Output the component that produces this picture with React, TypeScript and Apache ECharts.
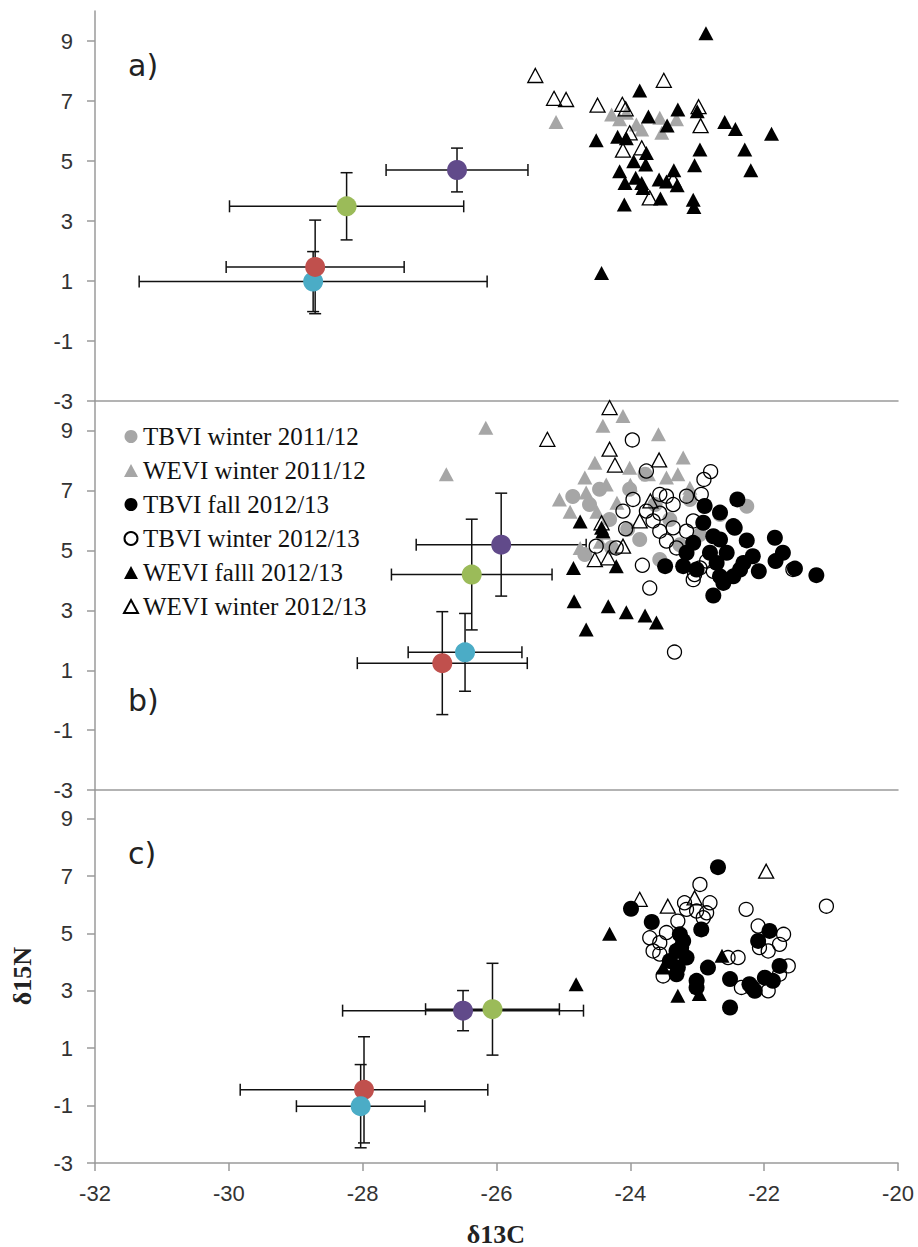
import React, { useEffect, useRef } from 'react';
import * as echarts from 'echarts';

const xTicks = [-32, -30, -28, -26, -24, -22, -20];
const yTicks = [-3, -1, 1, 3, 5, 7, 9];
const panelLabels = ['a)', 'b)', 'c)'];
const legendNames = [
  'TBVI winter 2011/12',
  'WEVI winter 2011/12',
  'TBVI fall 2012/13',
  'TBVI winter 2012/13',
  'WEVI falll 2012/13',
  'WEVI winter 2012/13',
];

// Panel a
const grayTriA = [[-25.11,6.30],[-24.28,6.55],[-24.16,6.39],[-23.91,6.22],[-23.56,6.44],[-23.53,5.94],[-23.83,6.05],[-23.31,6.39],[-24.06,6.61]];
const blackTriA = [[-22.87,9.26],[-23.86,7.35],[-23.73,6.48],[-23.29,6.72],[-23.00,6.66],[-23.45,6.18],[-22.59,6.30],[-22.43,6.07],[-21.89,5.91],[-24.51,5.69],[-24.19,5.81],[-24.06,5.76],[-22.96,5.38],[-22.29,5.38],[-23.76,5.27],[-23.95,4.99],[-23.04,4.86],[-23.77,4.88],[-24.16,4.66],[-23.35,4.69],[-22.20,4.69],[-24.08,4.27],[-23.83,4.27],[-23.57,4.38],[-23.46,4.32],[-23.30,4.19],[-23.81,4.10],[-23.55,3.75],[-23.06,3.71],[-23.05,3.47],[-24.09,3.55],[-24.43,1.27],[-23.92,4.44]];
const openTriA = [[-25.42,7.85],[-25.14,7.09],[-24.96,7.05],[-24.49,6.86],[-23.50,7.69],[-24.12,6.89],[-24.07,6.74],[-22.98,6.81],[-22.95,6.18],[-24.01,5.94],[-24.11,5.36],[-23.83,5.44],[-23.36,4.38],[-23.71,3.77]];
// [x, y, xErr, yErr]
const meanRedA = [-28.71, 1.47, 1.33, 1.56];
const meanBlueA = [-28.74, 0.98, 2.6, 1.0];
const meanGreenA = [-28.24, 3.49, 1.75, 1.12];
const meanPurpleA = [-26.59, 4.70, 1.06, 0.73];

// Panel b
const grayCircB = [[-24.86,6.81],[-24.61,6.54],[-24.31,6.04],[-24.04,5.71],[-23.86,5.37],[-23.63,6.54],[-23.41,6.04],[-23.11,6.71],[-22.96,5.54],[-22.66,6.21],[-22.26,6.48],[-24.28,5.10],[-24.68,4.87],[-24.01,7.05],[-23.56,4.70],[-23.26,5.20],[-24.46,7.05],[-23.78,7.55]];
const grayTriB = [[-26.75,7.55],[-26.16,9.11],[-24.11,9.50],[-24.41,9.17],[-23.58,8.89],[-23.21,8.11],[-24.53,7.94],[-24.01,7.77],[-25.06,6.71],[-24.68,7.44],[-24.36,7.21],[-24.66,6.94],[-23.73,7.55],[-23.46,7.44],[-23.29,7.55],[-23.11,7.10],[-24.75,5.09],[-24.45,5.30],[-24.90,6.30],[-24.50,6.30],[-24.20,6.60],[-24.40,5.60],[-24.00,7.20]];
const blackCircB = [[-22.40,6.71],[-22.44,5.76],[-21.84,5.43],[-22.26,5.34],[-21.72,4.93],[-21.83,4.65],[-21.54,4.40],[-21.22,4.18],[-22.08,4.31],[-22.76,3.50],[-23.48,4.48],[-23.21,4.48],[-22.89,6.49],[-22.66,6.27],[-22.76,5.48],[-22.56,4.93],[-22.31,4.59],[-22.66,4.14],[-22.46,4.14],[-22.17,4.81],[-22.81,4.93],[-23.06,5.26],[-22.91,5.93],[-23.16,4.93],[-22.61,3.92],[-22.36,4.37],[-22.71,4.59],[-23.01,4.37],[-22.46,5.82],[-22.66,5.37]];
const openCircB = [[-23.97,8.70],[-23.76,7.66],[-22.80,7.64],[-22.90,7.38],[-23.96,6.71],[-24.11,6.32],[-24.07,5.73],[-24.51,5.15],[-24.21,5.09],[-23.82,4.51],[-23.71,3.75],[-23.34,1.61],[-23.06,4.03],[-23.04,4.20],[-21.57,4.37],[-23.56,6.88],[-23.46,6.82],[-23.16,6.82],[-22.94,6.88],[-23.36,6.54],[-23.66,5.99],[-23.56,5.65],[-23.46,5.32],[-23.36,5.76],[-23.16,5.65],[-23.06,5.99],[-23.31,5.09],[-22.96,4.42],[-22.86,4.65],[-22.76,4.31],[-23.76,6.32],[-23.56,6.25]];
const blackTriB = [[-24.75,5.97],[-24.43,5.76],[-24.41,5.65],[-24.85,4.42],[-24.21,4.48],[-24.84,3.31],[-24.33,3.14],[-24.06,2.94],[-23.78,2.83],[-23.61,2.60],[-24.66,2.36]];
const openTriB = [[-24.31,9.78],[-25.24,8.72],[-24.31,8.39],[-24.23,7.86],[-23.57,8.03],[-23.70,6.66],[-23.86,5.99],[-24.43,5.93],[-24.11,5.15],[-24.53,4.70],[-24.33,4.76]];
const meanRedB = [-26.81, 1.24, 1.27, 1.72];
const meanBlueB = [-26.47, 1.60, 0.85, 1.3];
const meanGreenB = [-26.37, 4.20, 1.2, 1.85];
const meanPurpleB = [-25.93, 5.20, 1.27, 1.72];

// Panel c
const blackCircC = [[-22.69,7.31],[-23.99,5.86],[-23.68,5.40],[-22.94,5.14],[-21.92,5.09],[-22.09,4.74],[-23.21,4.74],[-23.31,4.39],[-23.16,4.16],[-23.29,3.81],[-22.84,3.81],[-23.31,3.58],[-23.01,3.35],[-23.01,3.12],[-22.51,3.41],[-22.22,3.23],[-22.14,3.00],[-21.99,3.46],[-21.87,3.35],[-21.77,3.87],[-22.51,2.42],[-23.41,4.04],[-23.26,4.97],[-23.24,4.51],[-22.18,3.12]];
const openCircC = [[-22.96,6.71],[-21.07,5.95],[-22.27,5.84],[-22.81,6.07],[-23.16,5.84],[-23.01,5.78],[-22.91,5.55],[-22.09,5.26],[-21.71,4.97],[-21.77,4.62],[-21.94,4.39],[-22.39,4.16],[-22.54,4.16],[-23.71,4.85],[-23.56,4.68],[-23.46,5.03],[-23.56,4.28],[-23.29,5.43],[-23.51,3.52],[-22.34,3.12],[-21.94,3.00],[-21.77,3.58],[-23.19,6.07],[-22.86,5.72],[-22.07,4.51],[-23.66,4.39],[-21.64,3.87]];
const blackTriC = [[-24.31,4.99],[-24.81,3.23],[-22.63,4.22],[-23.51,3.81],[-23.29,2.83],[-22.97,2.89]];
const openTriC = [[-21.97,7.17],[-23.86,6.19],[-23.44,5.95],[-23.04,6.24]];
const meanRedC = [-27.98, -0.45, 1.85, 1.85];
const meanBlueC = [-28.03, -1.02, 0.96, 1.45];
const meanGreenC = [-26.06, 2.36, 1.0, 1.6];
const meanPurpleC = [-26.50, 2.31, 1.8, 0.7];

const RED = '#C0504D';
const BLUE = '#4BACC6';
const GREEN = '#9BBB59';
const PURPLE = '#614A8A';
const GRAY = '#a6a6a6';

const panels = [
  {
    grayCirc: [] as number[][], grayTri: grayTriA, blackCirc: [] as number[][], openCirc: [] as number[][],
    blackTri: blackTriA, openTri: openTriA,
    means: [[meanBlueA, BLUE], [meanRedA, RED], [meanGreenA, GREEN], [meanPurpleA, PURPLE]],
  },
  {
    grayCirc: grayCircB, grayTri: grayTriB, blackCirc: blackCircB, openCirc: openCircB,
    blackTri: blackTriB, openTri: openTriB,
    means: [[meanRedB, RED], [meanBlueB, BLUE], [meanGreenB, GREEN], [meanPurpleB, PURPLE]],
  },
  {
    grayCirc: [] as number[][], grayTri: [] as number[][], blackCirc: blackCircC, openCirc: openCircC,
    blackTri: blackTriC, openTri: openTriC,
    means: [[meanRedC, RED], [meanBlueC, BLUE], [meanGreenC, GREEN], [meanPurpleC, PURPLE]],
  },
];

const grids = [
  { left: 95, right: 20, top: 11, height: 390 },
  { left: 95, right: 20, top: 401, height: 389 },
  { left: 95, right: 20, top: 790, height: 373 },
];
const labelY = [65, 700, 853];

const AXIS_COLOR = '#9a9a9a';
const LABEL_FONT = 'Liberation Sans, Arial, sans-serif';
const SERIF = 'Liberation Serif, Times New Roman, serif';

function errorBarRender(params: any, api: any) {
  const x = api.value(0), y = api.value(1), xe = api.value(2), ye = api.value(3);
  const l = api.coord([x - xe, y]);
  const r = api.coord([x + xe, y]);
  const t = api.coord([x, y + ye]);
  const b = api.coord([x, y - ye]);
  const c = 6;
  const style = { stroke: '#111', lineWidth: 1.5 };
  const ln = (x1: number, y1: number, x2: number, y2: number) => ({ type: 'line', shape: { x1, y1, x2, y2 }, style });
  return {
    type: 'group',
    children: [
      ln(l[0], l[1], r[0], r[1]),
      ln(l[0], l[1] - c, l[0], l[1] + c),
      ln(r[0], r[1] - c, r[0], r[1] + c),
      ln(t[0], t[1], b[0], b[1]),
      ln(t[0] - c, t[1], t[0] + c, t[1]),
      ln(b[0] - c, b[1], b[0] + c, b[1]),
    ],
  };
}

const markerDefs = [
  { key: 'grayCirc', name: legendNames[0], symbol: 'circle', size: 15, itemStyle: { color: GRAY, opacity: 1 } },
  { key: 'grayTri', name: legendNames[1], symbol: 'triangle', size: [15, 14], itemStyle: { color: GRAY, opacity: 1 } },
  { key: 'blackCirc', name: legendNames[2], symbol: 'circle', size: 16, itemStyle: { color: '#000', opacity: 1 } },
  { key: 'openCirc', name: legendNames[3], symbol: 'circle', size: 14, itemStyle: { color: 'rgba(255,255,255,0)', borderColor: '#000', borderWidth: 1.3, opacity: 1 } },
  { key: 'blackTri', name: legendNames[4], symbol: 'triangle', size: [15, 14], itemStyle: { color: '#000', opacity: 1 } },
  { key: 'openTri', name: legendNames[5], symbol: 'triangle', size: [15, 14], itemStyle: { color: 'rgba(255,255,255,0)', borderColor: '#000', borderWidth: 1.3, opacity: 1 } },
];

function buildOption() {
  const xAxis: any[] = [];
  const yAxis: any[] = [];
  const series: any[] = [];
  const graphic: any[] = [];

  grids.forEach((g, i) => {
    const isBottom = i === 2;
    xAxis.push({
      type: 'value', gridIndex: i, min: xTicks[0], max: xTicks[xTicks.length - 1], interval: 2,
      splitLine: { show: false },
      axisLine: { show: true, onZero: false, lineStyle: { color: AXIS_COLOR, width: 1.5 } },
      axisTick: { show: isBottom, length: 8, lineStyle: { color: AXIS_COLOR, width: 1.5 } },
      axisLabel: { show: isBottom, fontSize: 22, color: '#333', fontFamily: LABEL_FONT, margin: 19 },
    });
    yAxis.push({
      type: 'value', gridIndex: i, min: -3, max: 10,
      splitLine: { show: false },
      axisLine: { show: true, onZero: false, lineStyle: { color: AXIS_COLOR, width: 1.5 } },
      axisTick: { show: true, length: 8, customValues: yTicks, lineStyle: { color: AXIS_COLOR, width: 1.5 } },
      axisLabel: { show: true, customValues: yTicks, fontSize: 22, color: '#333', fontFamily: LABEL_FONT, margin: 22 },
    });

    const p: any = panels[i];
    series.push({
      type: 'custom', xAxisIndex: i, yAxisIndex: i, z: 2, silent: true,
      renderItem: errorBarRender,
      encode: { x: 0, y: 1 },
      data: p.means.map((m: any) => m[0]),
    });
    markerDefs.forEach((d) => {
      series.push({
        type: 'scatter', name: d.name, xAxisIndex: i, yAxisIndex: i, z: 3, silent: true,
        symbol: d.symbol, symbolSize: d.size, itemStyle: d.itemStyle,
        data: p[d.key],
      });
    });
    series.push({
      type: 'scatter', name: 'means', xAxisIndex: i, yAxisIndex: i, z: 4, silent: true,
      symbol: 'circle', symbolSize: 20,
      data: p.means.map((m: any) => ({ value: [m[0][0], m[0][1]], itemStyle: { color: m[1], opacity: 1 } })),
    });

    graphic.push({
      type: 'text', x: 128, y: labelY[i],
      style: { text: panelLabels[i], fontSize: 30, fontFamily: 'DejaVu Sans, sans-serif', fill: '#222', verticalAlign: 'middle' },
    });
  });

  graphic.push({
    type: 'text', x: 496, y: 1234,
    style: { text: 'δ13C', fontSize: 26, fontWeight: 'bold', fontFamily: SERIF, fill: '#222', align: 'center', verticalAlign: 'middle' },
  });
  graphic.push({
    type: 'text', x: 22, y: 976, rotation: Math.PI / 2,
    style: { text: 'δ15N', fontSize: 26, fontWeight: 'bold', fontFamily: SERIF, fill: '#222', align: 'center', verticalAlign: 'middle' },
  });

  return {
    animation: false,
    backgroundColor: '#fff',
    grid: grids,
    xAxis, yAxis, series, graphic,
    legend: {
      data: legendNames, orient: 'vertical', left: 118, top: 419,
      itemWidth: 14, itemHeight: 13, itemGap: 9, selectedMode: false,
      textStyle: { fontSize: 25, lineHeight: 25, fontFamily: SERIF, color: '#111' },
    },
  };
}

export default function App() {
  const ref = useRef<HTMLDivElement>(null);
  useEffect(() => {
    document.body.style.margin = '0';
    if (!ref.current) return;
    const chart = echarts.init(ref.current, undefined, { renderer: 'svg' });
    chart.setOption(buildOption() as any);
    return () => chart.dispose();
  }, []);
  return <div ref={ref} style={{ width: 918, height: 1247 }} />;
}
